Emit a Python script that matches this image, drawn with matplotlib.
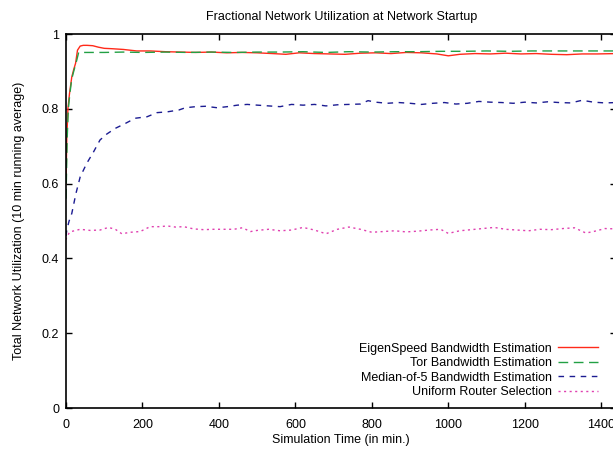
import numpy as np
import matplotlib.pyplot as plt

plt.rcParams['font.family'] = ['Liberation Sans', 'DejaVu Sans']
plt.rcParams['font.size'] = 9

# simulation time (min) and 10-minute running average utilization
t_eigen = [0, 2, 5, 9, 15, 20, 25, 30, 37, 45, 55, 70, 85, 100, 120, 150, 185, 220,
           260, 300, 340, 380, 420, 460, 500, 540, 575, 610, 650, 690, 730, 770, 810,
           850, 890, 930, 970, 1000, 1030, 1070, 1110, 1150, 1190, 1230, 1270, 1310,
           1350, 1390, 1440]
u_eigen = [0.60, 0.72, 0.80, 0.84, 0.885, 0.905, 0.922, 0.957, 0.968, 0.970, 0.970,
           0.969, 0.965, 0.962, 0.961, 0.959, 0.955, 0.955, 0.953, 0.952, 0.951, 0.952,
           0.950, 0.951, 0.950, 0.948, 0.946, 0.950, 0.948, 0.947, 0.946, 0.949, 0.950,
           0.948, 0.951, 0.950, 0.947, 0.942, 0.946, 0.948, 0.947, 0.949, 0.947, 0.948,
           0.946, 0.945, 0.947, 0.947, 0.948]

t_tor = [0, 3, 6, 10, 15, 20, 28, 33, 60, 100, 150, 200, 260, 320, 380, 440, 500,
         560, 620, 680, 740, 800, 860, 920, 980, 1040, 1100, 1160, 1220, 1280, 1340,
         1400, 1440]
u_tor = [0.56, 0.72, 0.80, 0.84, 0.88, 0.90, 0.93, 0.951, 0.951, 0.951, 0.952, 0.951,
         0.952, 0.951, 0.952, 0.951, 0.952, 0.952, 0.953, 0.951, 0.953, 0.952, 0.953,
         0.953, 0.954, 0.954, 0.955, 0.954, 0.955, 0.955, 0.955, 0.955, 0.955]

t_median = [0, 2, 8, 15, 26, 37, 54, 72, 89, 107, 129, 155, 181, 212, 238, 264, 295,
            312, 339, 365, 396, 422, 448, 474, 501, 530, 560, 590, 620, 650, 680, 710,
            740, 770, 790, 810, 840, 870, 900, 930, 960, 990, 1020, 1050, 1080, 1110,
            1140, 1170, 1200, 1230, 1260, 1290, 1320, 1350, 1380, 1410, 1440]
u_median = [0.46, 0.476, 0.50, 0.52, 0.574, 0.618, 0.654, 0.685, 0.717, 0.733, 0.748,
            0.761, 0.775, 0.779, 0.79, 0.792, 0.797, 0.803, 0.806, 0.807, 0.803, 0.806,
            0.81, 0.812, 0.81, 0.808, 0.806, 0.812, 0.81, 0.812, 0.808, 0.811, 0.812,
            0.813, 0.822, 0.818, 0.815, 0.817, 0.815, 0.812, 0.815, 0.817, 0.813, 0.815,
            0.82, 0.818, 0.817, 0.815, 0.818, 0.816, 0.819, 0.817, 0.816, 0.823, 0.818,
            0.816, 0.817]

t_uniform = [0, 2, 10, 37, 63, 89, 111, 129, 146, 168, 194, 220, 247, 264, 286, 308,
             334, 360, 386, 413, 439, 461, 483, 500, 530, 560, 590, 620, 650, 680, 710,
             740, 770, 800, 830, 860, 890, 920, 950, 980, 1000, 1030, 1060, 1090, 1120,
             1150, 1180, 1210, 1240, 1270, 1300, 1330, 1360, 1380, 1410, 1440]
u_uniform = [0.45, 0.458, 0.471, 0.478, 0.475, 0.476, 0.483, 0.478, 0.466, 0.47, 0.472,
             0.485, 0.485, 0.487, 0.484, 0.485, 0.479, 0.477, 0.478, 0.478, 0.478, 0.482,
             0.472, 0.475, 0.478, 0.474, 0.476, 0.483, 0.476, 0.466, 0.478, 0.484, 0.478,
             0.47, 0.472, 0.474, 0.471, 0.473, 0.476, 0.478, 0.467, 0.474, 0.477, 0.48,
             0.483, 0.478, 0.476, 0.474, 0.478, 0.477, 0.48, 0.482, 0.468, 0.472, 0.48,
             0.479]

fig = plt.figure(figsize=(6.13, 4.49), dpi=100)
ax = fig.add_axes([0.1077, 0.0913, 0.898, 0.8327])

ax.plot(t_eigen, u_eigen, color='#ff2a1a', lw=1.0, label='EigenSpeed Bandwidth Estimation')
ax.plot(t_tor, u_tor, color='#22a044', lw=1.0, dashes=(7, 4), label='Tor Bandwidth Estimation')
ax.plot(t_median, u_median, color='#1c1c92', lw=1.0, dashes=(4, 4),
        label='Median-of-5 Bandwidth Estimation')
ax.plot(t_uniform, u_uniform, color='#e040b0', lw=1.0, dashes=(1.5, 2.5),
        label='Uniform Router Selection')

ax.set_xlim(0, 1440)
ax.set_ylim(0, 1)
ax.set_xticks(np.arange(0, 1401, 200))
ax.set_yticks([0, 0.2, 0.4, 0.6, 0.8, 1])
ax.set_yticklabels(['0', '0.2', '0.4', '0.6', '0.8', '1'])
ax.tick_params(direction='in', length=4.5, width=1, top=True, right=True, pad=5)
ax.tick_params(axis='x', pad=8)
for s in ax.spines.values():
    s.set_linewidth(1.2)

ax.set_title('Fractional Network Utilization at Network Startup', fontsize=9, pad=10)
ax.set_xlabel('Simulation Time (in min.)', labelpad=2)
ax.set_ylabel('Total Network Utilization (10 min running average)', labelpad=12)

ax.legend(loc='lower right', bbox_to_anchor=(0.985, 0.0), markerfirst=False,
          frameon=False, handlelength=3.2, handletextpad=0.5, labelspacing=0.2,
          borderaxespad=0.4)

fig.savefig('out.png', dpi=100)
